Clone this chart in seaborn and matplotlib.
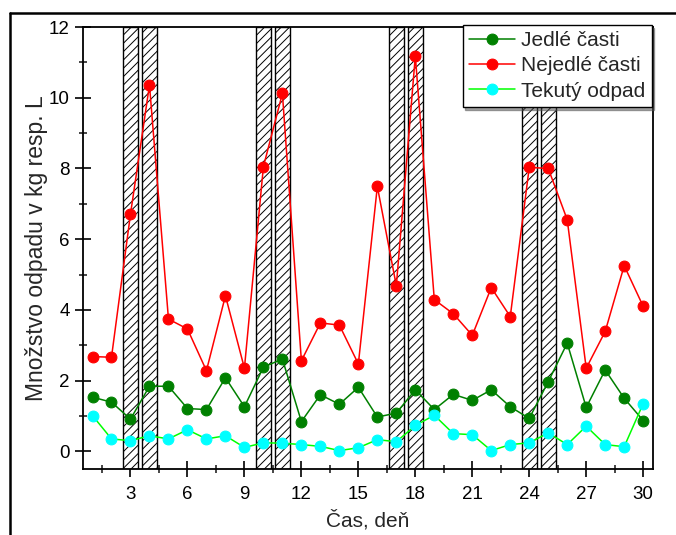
"""
Waste amounts per day with hatched weekend bands
"""

import pandas as pd
import matplotlib
matplotlib.use("Agg")
import matplotlib.pyplot as plt
from matplotlib.ticker import MultipleLocator
from matplotlib.lines import Line2D
import seaborn as sns

sns.set_style("ticks")
plt.rcParams['font.family'] = ['Liberation Sans', 'DejaVu Sans']
plt.rcParams['hatch.linewidth'] = 0.7

days = list(range(1, 31))
edible = [1.53, 1.39, 0.91, 1.84, 1.84, 1.21, 1.18, 2.08, 1.26, 2.38,
          2.61, 0.84, 1.60, 1.33, 1.81, 0.97, 1.08, 1.74, 1.18, 1.61,
          1.44, 1.74, 1.26, 0.93, 1.97, 3.06, 1.24, 2.30, 1.50, 0.87]
inedible = [2.68, 2.66, 6.71, 10.36, 3.74, 3.46, 2.28, 4.40, 2.35, 8.05,
            10.12, 2.56, 3.63, 3.57, 2.47, 7.49, 4.68, 11.18, 4.29, 3.89,
            3.28, 4.63, 3.81, 8.03, 8.00, 6.55, 2.35, 3.39, 5.25, 4.10]
liquid = [1.01, 0.35, 0.30, 0.44, 0.35, 0.61, 0.35, 0.44, 0.11, 0.24,
          0.23, 0.19, 0.14, 0.02, 0.10, 0.33, 0.27, 0.73, 1.02, 0.50,
          0.47, 0.02, 0.19, 0.24, 0.52, 0.19, 0.71, 0.19, 0.13, 1.35]
weekend_days = [3, 4, 10, 11, 17, 18, 24, 25]

series = [
    ('Jedlé časti', edible, '#008000', '#008000'),
    ('Nejedlé časti', inedible, '#FF0000', '#FF0000'),
    ('Tekutý odpad', liquid, '#00FF00', '#00FFFF'),
]

fig = plt.figure(figsize=(6.76, 5.35), dpi=100)
ax = fig.add_axes([0.1228, 0.1234, 0.8427, 0.8261])

y_lo, y_hi = -0.5, 12

# hatched weekend bands
ax.bar(weekend_days, [y_hi - y_lo] * len(weekend_days), bottom=y_lo,
       width=0.8, color='white', edgecolor='black', hatch='////',
       linewidth=1.0, zorder=1)

for name, values, line_color, marker_color in series:
    sns.lineplot(x=days, y=values, ax=ax, color=line_color,
                 marker='o', markersize=7.8, markerfacecolor=marker_color,
                 markeredgecolor=marker_color, linewidth=1.1,
                 label=name, zorder=3)

ax.set_xlim(0.5, 30.5)
ax.set_ylim(y_lo, y_hi)
ax.xaxis.set_major_locator(MultipleLocator(3))
ax.xaxis.set_minor_locator(MultipleLocator(1.5))
ax.yaxis.set_major_locator(MultipleLocator(2))
ax.yaxis.set_minor_locator(MultipleLocator(1))
ax.tick_params(which='major', direction='inout', length=12, width=1.2,
               labelsize=13.5, colors='black')
ax.tick_params(which='minor', direction='inout', length=6, width=1.2)
ax.tick_params(axis='x', pad=6)

for spine in ax.spines.values():
    spine.set_linewidth(1.3)
    spine.set_color('black')

ax.set_xlabel('Čas, deň', fontsize=15, labelpad=5)
ax.set_ylabel('Množstvo odpadu v kg resp. L', fontsize=16.5, labelpad=1)

leg = ax.legend(loc='upper right', bbox_to_anchor=(0.998, 1.005),
                fontsize=15, frameon=True, fancybox=False, shadow=True,
                framealpha=1, edgecolor='black', handlelength=2.2,
                handletextpad=0.3, borderpad=0.3, labelspacing=0.3,
                borderaxespad=0)
leg.get_frame().set_linewidth(1.0)
leg.set_zorder(5)

# page frame from the source document
fig.add_artist(Line2D([0.0148, 1.0], [0.9766, 0.9766], color='black',
                      linewidth=1.8, transform=fig.transFigure))
fig.add_artist(Line2D([0.0148, 0.0148], [0.0, 0.9766], color='black',
                      linewidth=1.8, transform=fig.transFigure))

fig.savefig('out.png', dpi=100, facecolor='white')
